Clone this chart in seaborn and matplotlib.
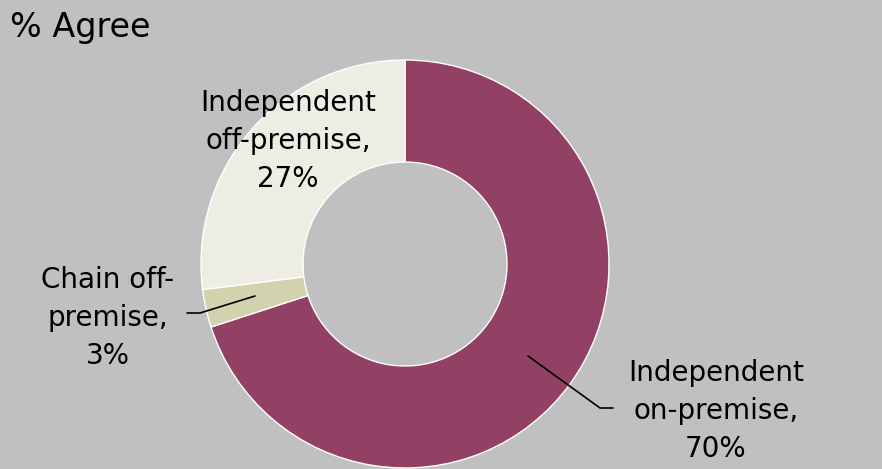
import matplotlib
matplotlib.use("Agg")
import matplotlib.pyplot as plt
import seaborn as sns

# data
segments = ["Independent\non-premise,\n70%", "Chain off-\npremise,\n3%", "Independent\noff-premise,\n27%"]
shares = [70, 3, 27]
colors = ["#934065", "#D3D2AE", "#EEEDE3"]

sns.set_theme(style="white")
plt.rcParams['font.family'] = ['DejaVu Sans']

BG = "#C0C0C0"
W, H = 882, 469
cx, cy, R = 405, 264, 204  # pixel centre and radius of the donut

fig = plt.figure(figsize=(W / 100, H / 100), dpi=100, facecolor=BG)
ax = fig.add_axes([0, 0, 1, 1])
ax.set_facecolor(BG)

wedges, _ = ax.pie(shares, colors=colors, startangle=90, counterclock=False,
                   radius=1.0, wedgeprops=dict(width=0.5, edgecolor="white", linewidth=1))

ax.set_xlim(-cx / R, (W - cx) / R)
ax.set_ylim(-(H - cy) / R, cy / R)
ax.set_aspect("equal")
ax.axis("off")

def px(x, y):
    return ((x - cx) / R, (cy - y) / R)

fs = 20
ls = 1.46
# labels
ax.text(*px(716, 411), segments[0], ha="center", va="center", fontsize=fs, color="black", linespacing=ls)
ax.text(*px(108, 318), segments[1], ha="center", va="center", fontsize=fs, color="black", linespacing=ls)
ax.text(*px(288, 141), segments[2], ha="center", va="center", fontsize=fs, color="black", linespacing=ls)

# leader lines
pts = [px(528, 356), px(600, 408), px(613, 408)]
ax.plot([p[0] for p in pts], [p[1] for p in pts], color="black", lw=1.2)
pts = [px(255, 296), px(200, 313), px(187, 313)]
ax.plot([p[0] for p in pts], [p[1] for p in pts], color="black", lw=1.2)

fig.text(10 / W, 1 - 27 / H, "% Agree", ha="left", va="center", fontsize=24, color="black")

fig.savefig("out.png", dpi=100, facecolor=BG)
